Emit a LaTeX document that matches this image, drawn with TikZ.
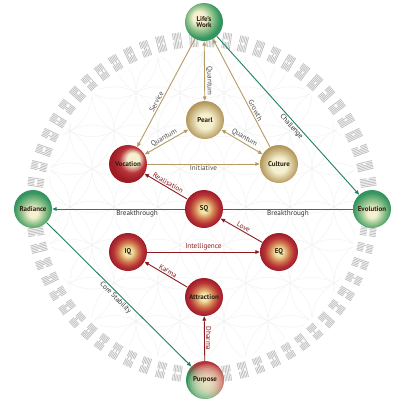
\documentclass[tikz,border=0pt]{standalone}
\usepackage{fontspec}
\setmainfont{PT Sans}
\usetikzlibrary{arrows.meta}

\definecolor{orbcream}{HTML}{F5F0CF}
\definecolor{orbyellow}{HTML}{F3E6A8}
\definecolor{orbgreen}{HTML}{34945F}
\definecolor{orbgreenmid}{HTML}{8CC08A}
\definecolor{orbtan}{HTML}{B39659}
\definecolor{orbred}{HTML}{9E1C26}
\definecolor{orbredmid}{HTML}{D07A4C}
\definecolor{orbredrim}{HTML}{B8343A}
\definecolor{orbtext}{HTML}{2B2013}
\definecolor{linetan}{HTML}{B59B63}
\definecolor{linered}{HTML}{8A1A1E}
\definecolor{lineteal}{HTML}{1E8062}
\definecolor{ringgray}{HTML}{C2C2C2}

% orb shadings (centre of the light spot first)
\pgfdeclareradialshading{lifeorb}{\pgfpoint{-8bp}{7bp}}{color(0bp)=(orbcream); color(8bp)=(orbcream); color(17bp)=(orbgreenmid); color(25bp)=(orbgreen); color(50bp)=(orbgreen)}
\pgfdeclareradialshading{greenorb}{\pgfpoint{0bp}{-6bp}}{color(0bp)=(orbcream); color(6bp)=(orbcream); color(16bp)=(orbgreenmid); color(25bp)=(orbgreen); color(50bp)=(orbgreen)}
\pgfdeclareradialshading{tanorb}{\pgfpoint{0bp}{-2bp}}{color(0bp)=(orbcream); color(10bp)=(orbcream); color(25bp)=(orbtan); color(50bp)=(orbtan)}
\pgfdeclareradialshading{redorb}{\pgfpoint{0bp}{0bp}}{color(0bp)=(orbyellow); color(5bp)=(orbyellow); color(13bp)=(orbredmid); color(19bp)=(orbredrim); color(25bp)=(orbred); color(50bp)=(orbred)}
\pgfdeclareradialshading{vocorb}{\pgfpoint{8bp}{8bp}}{color(0bp)=(orbcream); color(8bp)=(orbcream); color(17bp)=(orbredrim); color(25bp)=(orbred); color(50bp)=(orbred)}
\pgfdeclarehorizontalshading{purposeaxis}{100bp}{color(0bp)=(orbgreen); color(38bp)=(orbgreen); color(58bp)=(orbredrim); color(100bp)=(orbredrim)}

\tikzset{
  orb/.style={circle, minimum size=38bp, inner sep=0pt, align=center,
    font=\bfseries\fontsize{7}{6.8}\selectfont, text=orbtext},
  edgelabel/.style={font=\fontsize{7.2}{7.2}\selectfont, inner sep=1.2bp},
  tanline/.style={linetan, line width=0.9bp},
  redline/.style={linered, line width=0.9bp},
  tealline/.style={lineteal, line width=0.9bp},
  purposeorb/.style={orb, shading=purposeaxis, shading angle=45, path picture={
      \foreach \r in {19,17,...,3}
        \fill[orbcream, opacity=0.22] ([xshift=2bp, yshift=-3bp]path picture bounding box.center) circle (\r bp);}}
}

\begin{document}
\begin{tikzpicture}[x=1bp, y=-1bp, >={Triangle[length=4.5bp, width=3.6bp]}]
\useasboundingbox (0,0) rectangle (407,413);

% flower of life, very faint
\begin{scope}
\clip (202,207) circle (156);
\foreach \a in {-4,...,4}
  \foreach \b in {-4,...,4}
    \draw[black!5, line width=0.5bp] ({202+44*\a+22*\b},{207+38.1*\b}) circle (44);
\end{scope}

% ring of hexagrams
\pgfmathsetmacro{\ringin}{160}
\pgfmathsetmacro{\ringout}{176}
\pgfmathsetmacro{\ringmid}{(\ringin+\ringout)/2}
\foreach \i in {0,...,63}{
  \begin{scope}[shift={(202,207)}, rotate=\i*5.625+2.8]
  \foreach \j in {0,...,5}{
    \pgfmathsetmacro{\gap}{1.3*mod(floor(\i/2^\j),2)}
    \pgfmathsetmacro{\ly}{(\j-2.5)*1.55}
    \draw[ringgray, line width=0.85bp] (\ringin,\ly) -- (\ringmid-\gap,\ly) (\ringmid+\gap,\ly) -- (\ringout,\ly);
  }
  \end{scope}
}

% nodes
\node[orb, shading=lifeorb] (lifeswork) at (204,22) {Life’s\\Work};
\node[orb, shading=tanorb] (pearl) at (205,120) {Pearl};
\node[orb, shading=vocorb] (vocation) at (128,164) {Vocation};
\node[orb, shading=tanorb] (culture) at (279,164) {Culture};
\node[orb, shading=greenorb] (radiance) at (33,209) {Radiance};
\node[orb, shading=redorb] (sq) at (204,209) {SQ};
\node[orb, shading=greenorb] (evolution) at (372,209) {Evolution};
\node[orb, shading=redorb] (iq) at (128,252) {IQ};
\node[orb, shading=redorb] (eq) at (279,252) {EQ};
\node[orb, shading=redorb] (attraction) at (204,297) {Attraction};
\node[purposeorb] (purpose) at (205,380) {Purpose};

% triangle of the upper part
\draw[tanline, ->] (lifeswork) -- node[edgelabel, text=black!70, sloped, above, pos=0.6] {Service} (vocation);
\draw[tanline, <->] (pearl) -- node[edgelabel, text=black!70, sloped, above, pos=0.33] {Quantum} (lifeswork);
\draw[tanline, ->] (culture) -- node[edgelabel, text=black!70, sloped, above, pos=0.32] {Growth} (lifeswork);
\draw[tanline, <->] (vocation) -- node[edgelabel, text=black!70, sloped, above] {Quantum} (pearl);
\draw[tanline, <->] (pearl) -- node[edgelabel, text=black!70, sloped, above] {Quantum} (culture);
\draw[tanline, ->] (vocation) -- node[edgelabel, text=black!70, below] {Initiative} (culture);

% red chain
\draw[redline, ->] (sq) -- node[edgelabel, text=linered, sloped, above] {Realisation} (vocation);
\draw[redline, ->] (eq) -- node[edgelabel, text=linered, sloped, above] {Love} (sq);
\draw[redline, ->] (iq) -- node[edgelabel, text=linered, above] {Intelligence} (eq);
\draw[redline, ->] (attraction) -- node[edgelabel, text=linered, sloped, above] {Karma} (iq);
\draw[redline, ->] (purpose) -- node[edgelabel, text=linered, rotate=-90, anchor=south] {Dharma} (attraction);

% green links on the circle
\draw[tealline, ->] (sq) -- node[edgelabel, text=black!80, below, pos=0.36] {Breakthrough} (radiance);
\draw[tealline] (evolution) -- node[edgelabel, text=black!80, below] {Breakthrough} (sq);
\draw[tealline, ->] (lifeswork) -- node[edgelabel, text=black!80, sloped, below, pos=0.55] {Challenge} (evolution);
\draw[tealline, ->] (radiance) -- node[edgelabel, text=black!80, sloped, below] {Core Stability} (purpose);
\end{tikzpicture}
\end{document}
